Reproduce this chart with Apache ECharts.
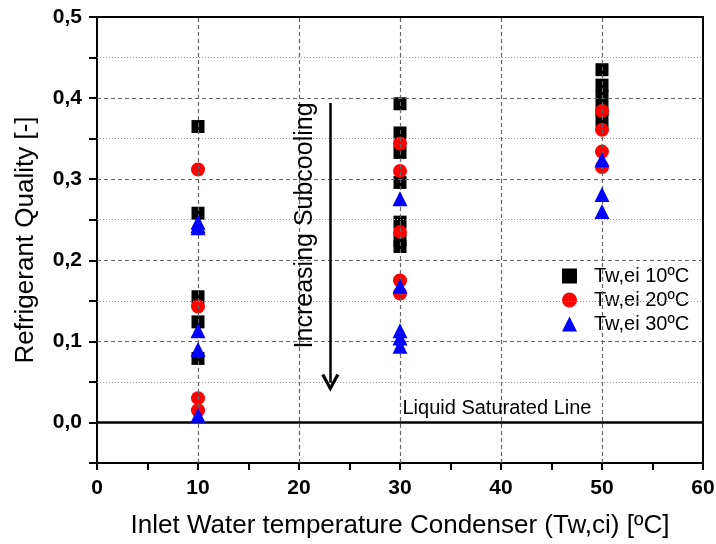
<!DOCTYPE html>
<html><head><meta charset="utf-8">
<script src="https://cdn.jsdelivr.net/npm/echarts@6/dist/echarts.min.js"></script>
<style>html,body{margin:0;padding:0;background:#fff}#c{width:716px;height:544px}</style>
</head><body><div id="c"></div>
<script>
const seriesNames = ['Tw,ei 10ºC', 'Tw,ei 20ºC', 'Tw,ei 30ºC'];
const tw10 = [[10,0.365],[10,0.258],[10,0.155],[10,0.124],[10,0.079],
  [30,0.393],[30,0.357],[30,0.333],[30,0.296],[30,0.247],[30,0.225],[30,0.217],
  [50,0.435],[50,0.416],[50,0.402],[50,0.386],[50,0.372]];
const tw20 = [[10,0.312],[10,0.143],[10,0.030],[10,0.015],
  [30,0.344],[30,0.310],[30,0.235],[30,0.175],[30,0.159],
  [50,0.384],[50,0.361],[50,0.334],[50,0.315]];
const tw30 = [[10,0.247],[10,0.243],[10,0.240],[10,0.113],[10,0.090],[10,0.009],
  [30,0.276],[30,0.168],[30,0.113],[30,0.104],[30,0.094],
  [50,0.324],[50,0.281],[50,0.260]];
const yMajor = [0.1,0.2,0.3,0.4];
const yMinor = [0.05,0.15,0.25,0.35,0.45];
const xMajor = [10,20,30,40,50];

const FONT = '"Liberation Sans", Arial, sans-serif';
const chart = echarts.init(document.getElementById('c'), null, {renderer:'canvas'});
chart.setOption({
  animation:false,
  backgroundColor:'#fff',
  grid:{left:97,right:13,top:17,bottom:81,show:true,borderColor:'#000',borderWidth:2,backgroundColor:'transparent',
    containLabel:false, outerBoundsMode:'none'},
  legend:{
    orient:'vertical', left:557, top:261, itemGap:4, itemWidth:15, itemHeight:15,
    textStyle:{fontFamily:FONT,fontSize:20,color:'#000',padding:[0,0,0,12]},
    data:[{name:seriesNames[0],icon:'rect'},{name:seriesNames[1],icon:'circle'},{name:seriesNames[2],icon:'triangle'}]
  },
  xAxis:{
    type:'value', min:0, max:60, interval:5,
    name:'Inlet Water temperature Condenser (Tw,ci) [ºC]', nameLocation:'middle', nameGap:50,
    nameTextStyle:{fontFamily:FONT,fontSize:26,color:'#000'},
    axisLine:{show:true,onZero:false,lineStyle:{color:'#000',width:2}},
    axisTick:{show:true,inside:false,length:7,lineStyle:{color:'#000',width:2}},
    axisLabel:{fontFamily:FONT,fontSize:21,fontWeight:'bold',color:'#000',margin:15,
      formatter:v=> (Math.round(v)%10===0)? String(v):''},
    splitLine:{show:false}
  },
  yAxis:{
    type:'value', min:-0.05, max:0.5, interval:0.05,
    name:'Refrigerant Quality [-]', nameLocation:'middle', nameGap:58,
    nameTextStyle:{fontFamily:FONT,fontSize:26,color:'#000'},
    axisLine:{show:true,onZero:false,lineStyle:{color:'#000',width:2}},
    axisTick:{show:true,inside:false,length:8,lineStyle:{color:'#000',width:2}},
    axisLabel:{fontFamily:FONT,fontSize:21,fontWeight:'bold',color:'#000',margin:15,
      formatter:v=>{const r=Math.round(v*100); if(r<0||r%10!==0) return ''; return (r/100).toFixed(1).replace('.',',');}},
    splitLine:{show:false}
  },
  series:[
    {type:'scatter', data:[], z:1, silent:true,
      markLine:{silent:true,symbol:['none','none'],label:{show:false},animation:false,
        data:[
          ...yMajor.map(v=>({yAxis:v,lineStyle:{color:'#666',type:[4,3],width:1.2}})),
          ...yMinor.map(v=>({yAxis:v,lineStyle:{color:'#999',type:[1,2],width:1}})),
          ...xMajor.map(v=>({xAxis:v,lineStyle:{color:'#666',type:[4,3],width:1.2}})),
          {yAxis:0,lineStyle:{color:'#000',type:'solid',width:2.5}}
        ]}},
    {name:seriesNames[0], type:'scatter', symbol:'rect', symbolSize:13, itemStyle:{color:'#000',opacity:1}, data:tw10, z:3},
    {name:seriesNames[1], type:'scatter', symbol:'circle', symbolSize:14, itemStyle:{color:'#ff0000',opacity:1}, data:tw20, z:4},
    {name:seriesNames[2], type:'scatter', symbol:'triangle', symbolSize:15, itemStyle:{color:'#0000ff',opacity:1}, data:tw30, z:5},
    {type:'scatter', data:[], z:6, silent:true,
      markLine:{silent:true,animation:false,label:{show:false},
        symbol:['none','path://M5,0 L10,8 L8.4,8.8 L5,3.2 L1.6,8.8 L0,8 Z'], symbolSize:[18,18],
        lineStyle:{color:'#000',type:'solid',width:2.5},
        data:[[{coord:[23.1,0.394]},{coord:[23.1,0.049]}]]},
      markPoint:{silent:true,animation:false,symbol:'rect',symbolSize:1,itemStyle:{color:'rgba(0,0,0,0)'},
        data:[
          {coord:[20.65,0.243],label:{show:true,formatter:'Increasing Subcooling',rotate:90,fontFamily:FONT,fontSize:25,color:'#000',position:'inside'}},
          {coord:[39.6,0.017],label:{show:true,formatter:'Liquid Saturated Line',fontFamily:FONT,fontSize:20,color:'#000',position:'inside'}}
        ]}}
  ]
});
</script></body></html>
